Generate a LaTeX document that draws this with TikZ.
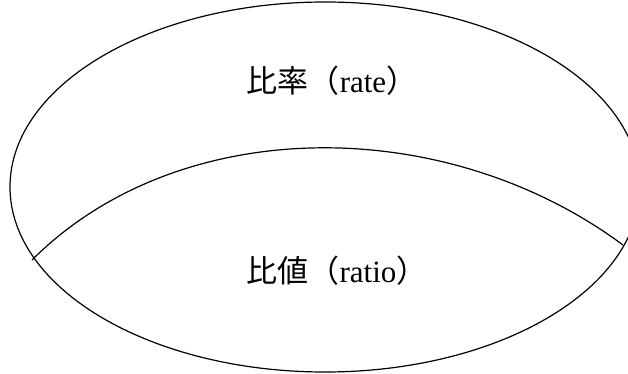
\documentclass[tikz,border=0pt]{standalone}
\usepackage{fontspec}
\setmainfont{Liberation Serif}
\newfontfamily\cjk{Noto Sans CJK JP}
\usetikzlibrary{shapes.geometric}

\tikzset{
  set/.style={draw, ellipse, line width=1.2pt, inner sep=0pt},
  lbl/.style={font=\fontsize{31}{34}\selectfont}
}

\begin{document}
\begin{tikzpicture}[x=1pt, y=-1pt]
    \useasboundingbox (0,0) rectangle (628,374);
    \node[set, minimum width=630pt, minimum height=370pt] (outer) at (325,187) {};

    \coordinate (l) at (32,260);
    \coordinate (r) at (623,245);
    \draw[line width=1.2pt] (l) .. controls (179,113) and (445,113) .. (r);

    \node[lbl] (rate) at (332,81) {{\cjk 比率（}rate{\cjk ）}};
    \node[lbl] (ratio) at (337,271) {{\cjk 比値（}ratio{\cjk ）}};
\end{tikzpicture}
\end{document}
